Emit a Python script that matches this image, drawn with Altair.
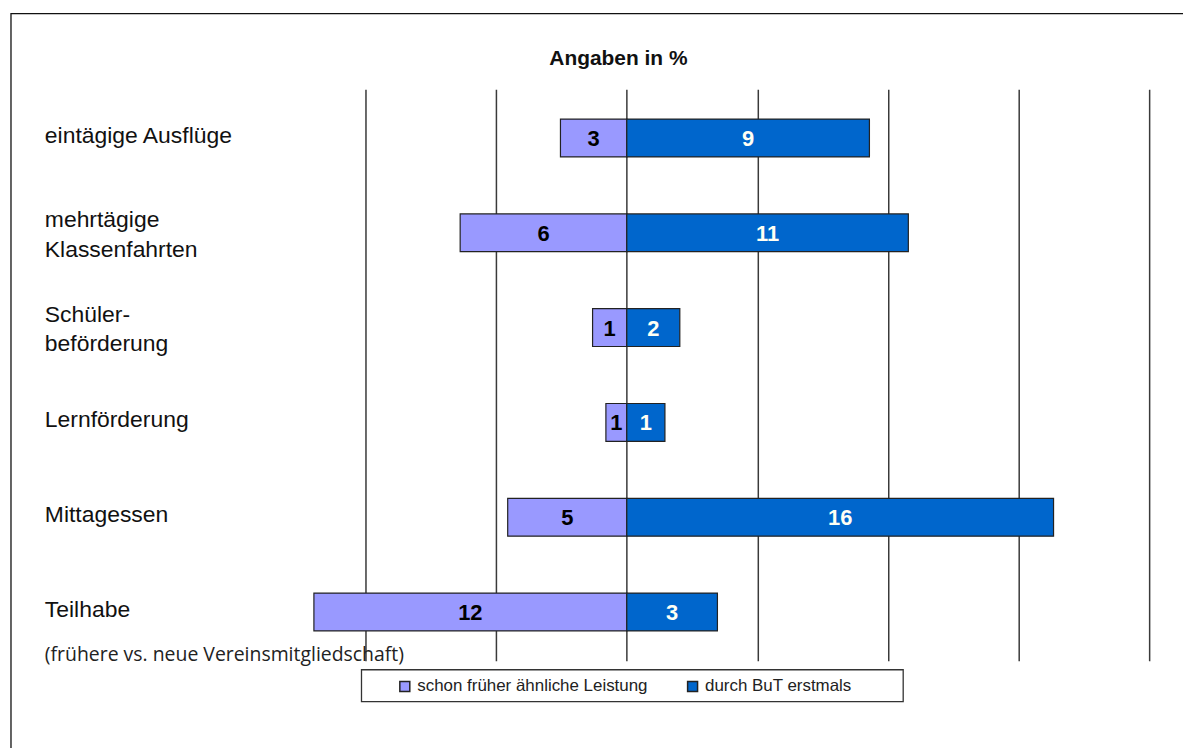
import altair as alt
import pandas as pd

# ---- data ----
TITLE = ["Angaben in %"]
categories = ["eintägige Ausflüge", "mehrtägige\nKlassenfahrten", "Schüler-\nbeförderung",
              "Lernförderung", "Mittagessen", "Teilhabe"]
note = ["(frühere vs. neue Vereinsmitgliedschaft)"]
series = ["schon früher ähnliche Leistung", "durch BuT erstmals"]
frueher = [2.54, 6.38, 1.31, 0.80, 4.56, 11.98]
erstmals = [9.29, 10.78, 2.03, 1.46, 16.34, 3.47]
grid_values = [-10, -5, 0, 5, 10, 15, 20]
colors = ["#9999FF", "#0066CC"]

rows = []
for c, a, b in zip(categories, frueher, erstmals):
    rows.append({"cat": c, "series": series[0], "value": a, "start": -a, "end": 0.0, "mid": -a / 2})
    rows.append({"cat": c, "series": series[1], "value": b, "start": 0.0, "end": b, "mid": b / 2})
df = pd.DataFrame(rows)

W, H = 918, 574
PL, PT = 228, 80  # plot origin on the page at (236, 88)
OX, OY = PL + 8, PT + 8

xscale = alt.Scale(domain=[-15, 20], nice=False, zero=False)
yscale = alt.Scale(domain=categories, paddingInner=0.601, paddingOuter=0.315)
Y = alt.Y("cat:N", scale=yscale, sort=categories, axis=None)

one = pd.DataFrame({"k": [0]})

frame = alt.Chart(one).mark_rect(fillOpacity=0, stroke="#111", strokeWidth=1.3).encode(
    x=alt.value(11 - OX), x2=alt.value(W + 200),
    y=alt.value(12 - OY), y2=alt.value(H + 200))

legend_box = alt.Chart(one).mark_rect(fill="white", stroke="#333", strokeWidth=1.3).encode(
    x=alt.value(363 - OX), x2=alt.value(907 - OX),
    y=alt.value(671 - OY), y2=alt.value(703 - OY))

bars = alt.Chart(df).mark_bar(stroke="#222", strokeWidth=1.2, opacity=1).encode(
    y=Y,
    x=alt.X("start:Q", scale=xscale,
            axis=alt.Axis(values=grid_values, grid=True, labels=False, ticks=False,
                          domain=False, title=None, gridColor="#3a3a3a", gridWidth=1.5,
                          gridOpacity=1)),
    x2="end:Q",
    color=alt.Color("series:N", scale=alt.Scale(domain=series, range=colors),
                    legend=alt.Legend(orient="none", legendX=398 - OX, legendY=679 - OY,
                                      direction="horizontal", title=None,
                                      symbolType="square", symbolSize=100,
                                      symbolStrokeColor="#222", symbolStrokeWidth=1.5,
                                      symbolOpacity=1,
                                      labelFont="Liberation Sans", labelFontSize=17,
                                      labelColor="#222", labelLimit=500, columnPadding=36,
                                      labelOffset=4, padding=0)),
)

num_font = "Liberation Sans Narrow, Arial Narrow, Liberation Sans"
left_txt = alt.Chart(df).transform_filter(alt.datum.series == series[0]).mark_text(
    font=num_font, fontWeight="bold", fontSize=22, color="#000", baseline="middle", dy=1
).encode(x=alt.X("mid:Q", scale=xscale), y=Y, text=alt.Text("value:Q", format=".0f"))

right_txt = alt.Chart(df).transform_filter(alt.datum.series == series[1]).mark_text(
    font=num_font, fontWeight="bold", fontSize=22, color="#FFFFF4", baseline="middle", dy=1
).encode(x=alt.X("mid:Q", scale=xscale), y=Y, text=alt.Text("value:Q", format=".0f"))

cat_data = pd.DataFrame({"cat": categories})
label_style = dict(align="left", baseline="middle", lineBreak="\n", font="Liberation Sans",
                   fontSize=23, lineHeight=30, color="#111")
cat_single = alt.Chart(cat_data).transform_filter(
    "indexof(datum.cat, '\\n') < 0").mark_text(dy=-2, **label_style).encode(
    x=alt.value(45 - OX), y=Y, text="cat:N")
cat_multi = alt.Chart(cat_data).transform_filter(
    "indexof(datum.cat, '\\n') >= 0").mark_text(dy=-13, **label_style).encode(
    x=alt.value(45 - OX), y=Y, text="cat:N")

note_txt = alt.Chart(pd.DataFrame({"cat": [categories[-1]], "note": note})).mark_text(
    align="left", baseline="alphabetic", font="Open Sans", fontSize=19.5, color="#222", dy=49
).encode(x=alt.value(45 - OX), y=Y, text="note:N")

title_txt = alt.Chart(pd.DataFrame({"t": TITLE})).mark_text(
    align="center", baseline="alphabetic", font="Liberation Sans", fontWeight="bold",
    fontSize=21, color="#111"
).encode(x=alt.value(621 - OX), y=alt.value(63.5 - OY), text="t:N")

chart = alt.layer(frame, legend_box, bars, left_txt, right_txt, cat_single, cat_multi,
                  note_txt, title_txt).properties(
    width=W, height=H,
    padding={"left": PL, "top": PT, "right": 34, "bottom": 86},
    autosize=alt.AutoSizeParams(type="none"),
).configure_view(stroke=None)

chart.save("out.html", embed_options={"renderer": "svg", "actions": False})
